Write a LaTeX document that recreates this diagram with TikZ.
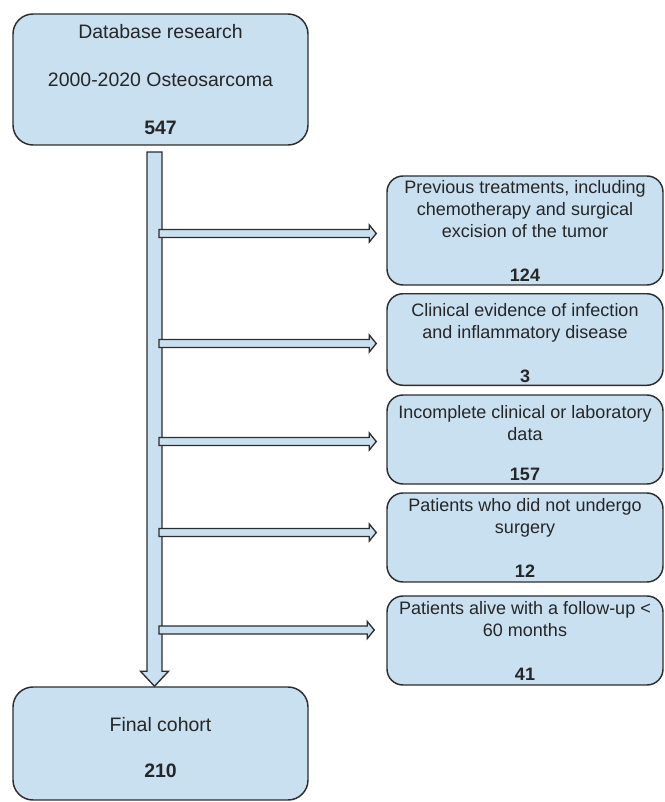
\documentclass[tikz,border=0pt]{standalone}
\usepackage{fontspec}
\setmainfont{Liberation Sans}
\usetikzlibrary{calc}

\definecolor{boxfill}{RGB}{201,224,241}
\definecolor{boxline}{RGB}{45,45,45}

\tikzset{every picture/.style={line width=1.1pt}}
\tikzset{
  flowbox/.style={draw=boxline, fill=boxfill, align=center, inner sep=2pt, text=black!85},
  bigbox/.style={flowbox, rounded corners=15pt, minimum width=221.25pt, font=\fontsize{14.6}{17.5}\selectfont},
  sidebox/.style={flowbox, rounded corners=12pt, minimum width=207pt, minimum height=66.75pt, font=\fontsize{13.5}{16.5}\selectfont},
  blockarrow/.style={draw=boxline, fill=boxfill, line join=miter, line width=1pt}
}

% fat arrow, left to right (start and tip on one level)
\newcommand{\blockright}[2]{%
  \draw[blockarrow] ($(#1)+(0,-4)$) -- ($(#2)+(-7,-4)$) -- ($(#2)+(-7,-8.5)$) -- (#2)
    -- ($(#2)+(-7,8.5)$) -- ($(#2)+(-7,4)$) -- ($(#1)+(0,4)$) -- cycle ;}
% fat arrow, top to bottom (start and tip in one column)
\newcommand{\blockdown}[2]{%
  \draw[blockarrow] ($(#1)+(-7.5,0)$) -- ($(#2)+(-7.5,-15)$) -- ($(#2)+(-14,-15)$) -- (#2)
    -- ($(#2)+(14,-15)$) -- ($(#2)+(7.5,-15)$) -- ($(#1)+(7.5,0)$) -- cycle ;}

\begin{document}
\begin{tikzpicture}[x=0.75pt,y=0.75pt,yscale=-1,xscale=1]
\useasboundingbox (0,0) rectangle (664,802);

%Shape: Rounded Rect [id:db]
\node[bigbox, minimum height=98.25pt] (db) at (160.5,79.5)
  {Database research\\[18.5pt]2000-2020 Osteosarcoma\\[18.5pt]\textbf{547}};
%Shape: Rounded Rect [id:final]
\node[bigbox, minimum height=84.75pt] (final) at (160.5,743.5)
  {\rule{0pt}{17pt}Final cohort\\[17pt]\textbf{210}};

%Shape: Rounded Rect [id:prev]
\node[sidebox, minimum height=81.75pt] (prev) at (525,230.5)
  {Previous treatments, including\\chemotherapy and surgical\\excision of the tumor\\[16.5pt]\textbf{124}};
%Shape: Rounded Rect [id:infect]
\node[sidebox] (infect) at (525,339.5)
  {\rule{0pt}{15pt}Clinical evidence of infection\\and inflammatory disease\\[16.5pt]\textbf{3}};
%Shape: Rounded Rect [id:incomp]
\node[sidebox] (incomp) at (525,439.5)
  {\rule{0pt}{15pt}Incomplete clinical or laboratory\\data\\[14pt]\textbf{157}};
%Shape: Rounded Rect [id:nosurg]
\node[sidebox] (nosurg) at (525,537.5)
  {Patients who did not undergo\\surgery\\[16.5pt]\textbf{12}};
%Shape: Rounded Rect [id:alive]
\node[sidebox] (alive) at (525,640.5)
  {Patients alive with a follow-up <\\60 months\\[16.5pt]\textbf{41}};

%Block Arrow [id:trunk]
\coordinate (trunk) at (154.5,152);
\coordinate (trunkend) at (trunk |- final.north);
\blockdown{trunk}{trunkend}

%Block Arrows to the side boxes
\coordinate (s1) at (159,233.5);
\coordinate (s2) at (159,343.5);
\coordinate (s3) at (159,441.5);
\coordinate (s4) at (159,532.5);
\coordinate (s5) at (159,630);
\coordinate (e1) at ($(s1 -| prev.west)+(-10,0)$);
\coordinate (e2) at ($(s2 -| infect.west)+(-10,0)$);
\coordinate (e3) at ($(s3 -| incomp.west)+(-10,0)$);
\coordinate (e4) at ($(s4 -| nosurg.west)+(-10,0)$);
\coordinate (e5) at ($(s5 -| alive.west)+(-12,0)$);
\blockright{s1}{e1}
\blockright{s2}{e2}
\blockright{s3}{e3}
\blockright{s4}{e4}
\blockright{s5}{e5}

\end{tikzpicture}
\end{document}
